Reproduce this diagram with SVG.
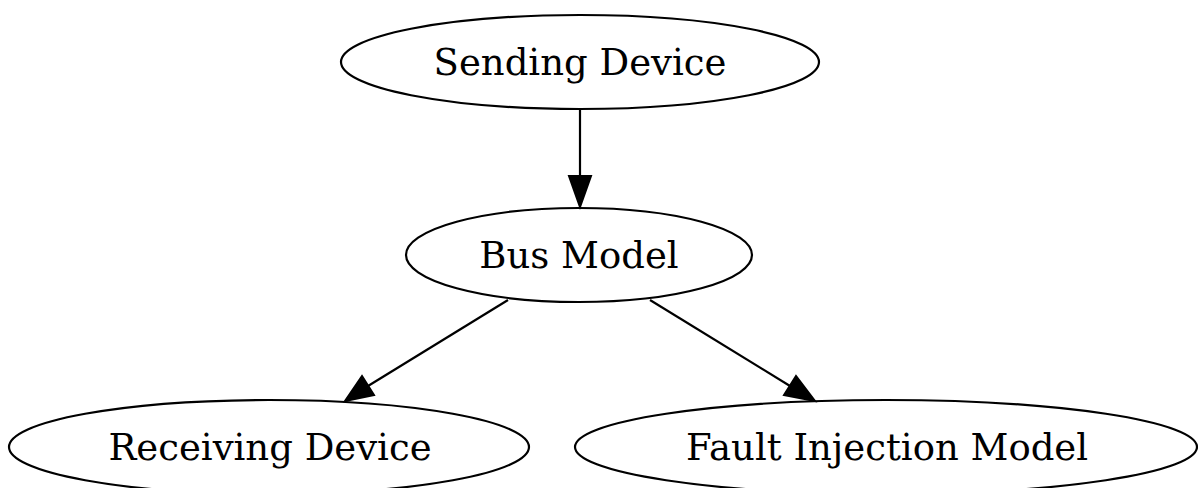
<svg xmlns="http://www.w3.org/2000/svg" width="1198" height="488" viewBox="0 0 1198 488">
  <style>
    .node ellipse { fill: none; stroke: #000; stroke-width: 2.2; }
    .node text { font-family: "DejaVu Serif", "Liberation Serif", serif; font-size: 37px; fill: #000; text-anchor: middle; }
    .edge line { stroke: #000; stroke-width: 2.2; }
    .edge polygon { fill: #000; stroke: #000; stroke-width: 2; }
  </style>
  <rect width="1198" height="488" fill="#fff"/>
  <g id="edges">
    <g class="edge" id="sending-bus">
      <line x1="580" y1="110" x2="580" y2="176"/>
      <polygon points="569,176 591,176 580,207"/>
    </g>
    <g class="edge" id="bus-receiving">
      <line x1="508" y1="300" x2="368" y2="386"/>
      <polygon points="362,376 374,395 345,401"/>
    </g>
    <g class="edge" id="bus-fault">
      <line x1="650" y1="300" x2="790" y2="386"/>
      <polygon points="796,376 784,395 815,401"/>
    </g>
  </g>
  <g class="node" id="sending">
    <ellipse cx="580" cy="62" rx="239" ry="47"/>
    <text x="580" y="75">Sending Device</text>
  </g>
  <g class="node" id="bus">
    <ellipse cx="579" cy="255" rx="173" ry="47"/>
    <text x="579" y="268">Bus Model</text>
  </g>
  <g class="node" id="receiving">
    <ellipse cx="269" cy="447" rx="260" ry="47"/>
    <text x="270" y="460">Receiving Device</text>
  </g>
  <g class="node" id="fault">
    <ellipse cx="886" cy="447" rx="311" ry="47"/>
    <text x="887" y="460">Fault Injection Model</text>
  </g>
</svg>
